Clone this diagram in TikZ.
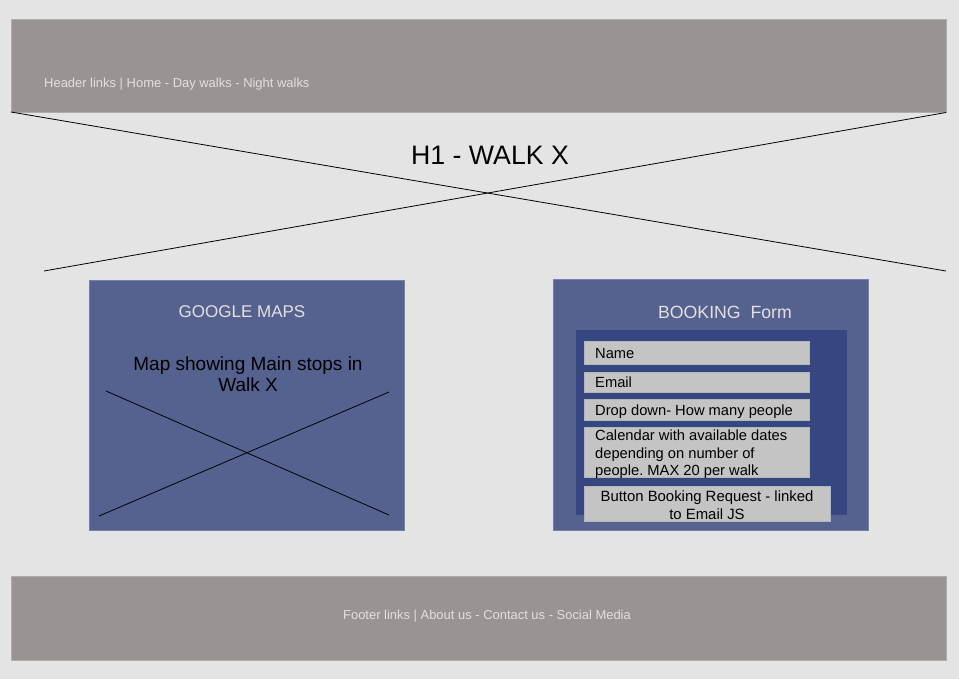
\documentclass[tikz,border=0pt]{standalone}
\usepackage{fontspec}
\setmainfont{Liberation Sans}
\frenchspacing
\definecolor{bgc}{RGB}{228,228,228}
\definecolor{barc}{RGB}{153,147,146}
\definecolor{barline}{RGB}{176,172,172}
\definecolor{bluec}{RGB}{85,98,143}
\definecolor{darkc}{RGB}{53,70,128}
\definecolor{fieldc}{RGB}{196,196,196}
\definecolor{lighttext}{RGB}{228,224,224}
\tikzset{
  bar/.style={draw=barline, fill=barc, line width=0.6pt},
  panel/.style={draw=bluec!80!white, fill=bluec, line width=0.6pt},
  inner/.style={fill=darkc},
  field/.style={draw=fieldc!80!gray, fill=fieldc, line width=0.6pt},
  cross/.style={black, line width=0.8pt},
  lighttxt/.style={text=lighttext, inner sep=0pt},
  darktxt/.style={text=black, inner sep=0pt},
}
\begin{document}
\begin{tikzpicture}[x=1pt,y=-1pt]
\useasboundingbox (0,0) rectangle (959,679);
\fill[bgc] (0,0) rectangle (959,679);
% header
\draw[bar] (11,19) rectangle (946,112);
\node[lighttxt, anchor=west, font=\fontsize{12.95}{16}\selectfont] (hdr) at (44,84) {Header links | Home - Day walks - Night walks};
% big cross
\coordinate (tl) at (11,112);
\coordinate (tr) at (946,112.5);
\coordinate (bl) at (44,271);
\coordinate (br) at (946,271);
\draw[cross] (tl) -- (br);
\draw[cross] (tr) -- (bl);
\node[darktxt, font=\fontsize{26.7}{30}\selectfont] (h1) at (490,155) {H1 - WALK X};
% google maps panel
\draw[panel] (89,280) rectangle (404,530);
\node[lighttxt, font=\fontsize{17}{20}\selectfont] (gm) at (242,312) {GOOGLE MAPS};
\node[darktxt, font=\fontsize{19}{20.5}\selectfont, align=center] (mapt) at (248,374) {Map showing Main stops in\\Walk X};
\coordinate (m1) at (106,391);
\coordinate (m2) at (389,515);
\coordinate (m3) at (389,392);
\coordinate (m4) at (99,516);
\draw[cross] (m1) -- (m2);
\draw[cross] (m3) -- (m4);
% booking panel
\draw[panel] (553,279) rectangle (868,530);
\node[lighttxt, font=\fontsize{17.7}{20}\selectfont] (bk) at (725,312) {BOOKING\ \ Form};
\fill[inner] (576,330) rectangle (847,515);
\draw[field] (584,341) rectangle (809,364);
\node[darktxt, anchor=west, font=\fontsize{14.7}{17}\selectfont] (name) at (595,353.5) {Name};
\draw[field] (584,372) rectangle (809,392);
\node[darktxt, anchor=west, font=\fontsize{14.7}{17}\selectfont] (email) at (595,382.5) {Email};
\draw[field] (584,399) rectangle (809,420);
\node[darktxt, anchor=west, font=\fontsize{14.7}{17}\selectfont] (drop) at (595,411.5) {Drop down- How many people};
\draw[field] (584,427) rectangle (809,477);
\begin{scope}
\clip (584,427) rectangle (809,477);
\node[darktxt, anchor=north west, align=left, font=\fontsize{14.7}{17.5}\selectfont] (cal) at (595,430) {Calendar with available dates\\depending on number of\\people. MAX 20 per walk};
\end{scope}
\draw[field] (584,486) rectangle (830,521);
\begin{scope}
\clip (584,486) rectangle (830,521);
\node[darktxt, anchor=north, align=center, font=\fontsize{14.9}{18}\selectfont] (btn) at (707,491) {Button Booking Request - linked\\to Email JS};
\end{scope}
% footer
\draw[bar] (11,576) rectangle (946,660);
\node[lighttxt, font=\fontsize{12.95}{15}\selectfont] (ftr) at (487,616.5) {Footer links | About us - Contact us - Social Media};
\end{tikzpicture}
\end{document}
